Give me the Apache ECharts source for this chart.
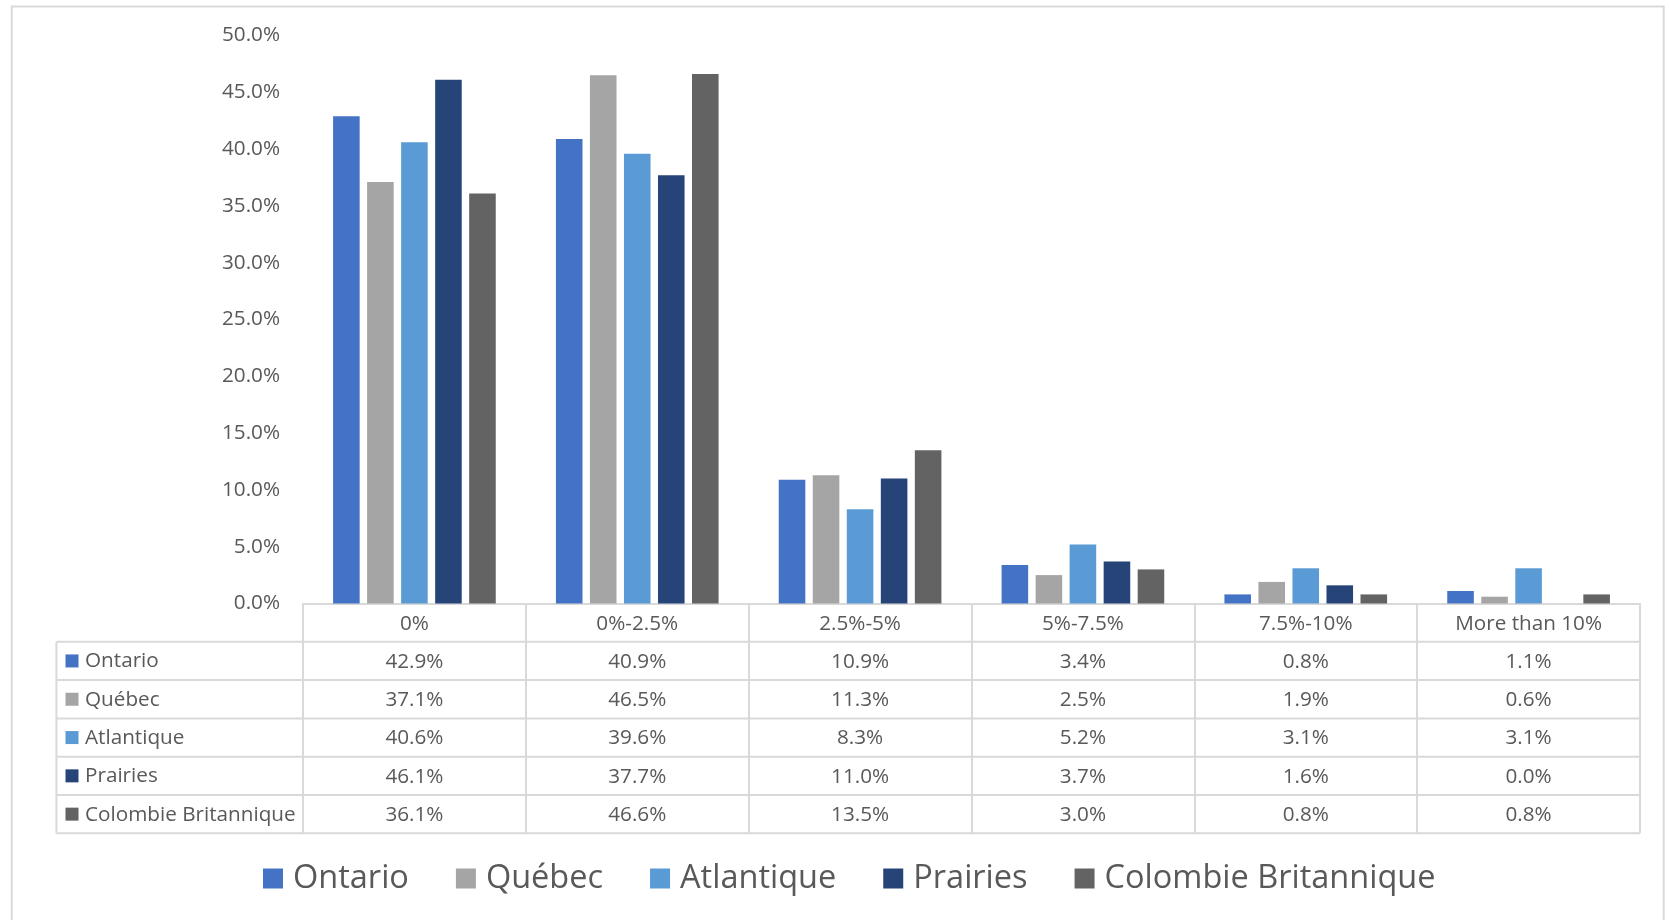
<!DOCTYPE html>
<html><head><meta charset="utf-8">
<script src="https://cdn.jsdelivr.net/npm/echarts@6.0.0/dist/echarts.min.js"></script>
<style>html,body{margin:0;padding:0;background:#fff}#c{width:1669px;height:920px}</style>
</head><body><div id="c"></div>
<script>
// ---- data ----
const categories = ['0%', '0%-2.5%', '2.5%-5%', '5%-7.5%', '7.5%-10%', 'More than 10%'];
const seriesNames = ['Ontario', 'Québec', 'Atlantique', 'Prairies', 'Colombie Britannique'];
const ontario    = [42.9, 40.9, 10.9, 3.4, 0.8, 1.1];
const quebec     = [37.1, 46.5, 11.3, 2.5, 1.9, 0.6];
const atlantique = [40.6, 39.6, 8.3, 5.2, 3.1, 3.1];
const prairies   = [46.1, 37.7, 11.0, 3.7, 1.6, 0.0];
const colombie   = [36.1, 46.6, 13.5, 3.0, 0.8, 0.8];
const yTicks = [0, 5, 10, 15, 20, 25, 30, 35, 40, 45, 50];

// ---- style / layout ----
const seriesData = [ontario, quebec, atlantique, prairies, colombie];
const colors = ['#4472C4', '#A5A5A5', '#5B9BD5', '#264478', '#636363'];
const FONT = '"Open Sans"';
const FS = 20.7;
const TXT = '#595959';
const LINE = '#D9D9D9';
const W = 1669, H = 920;
const gridLeft = 303, gridRight = 1640, gridTop = 35.5, axisY = 603.5;
const RH = 38.3;
const tableLeft = 56.4;
const nRows = seriesNames.length + 1;
const tableBottom = axisY + nRows * RH;
const fmt = v => v.toFixed(1) + '%';

const chart = echarts.init(document.getElementById('c'), null, {renderer: 'canvas'});

const graphics = [];
// outer border
graphics.push({type: 'rect', shape: {x: 11.7, y: 6.4, width: 1652, height: 940},
  style: {fill: null, stroke: LINE, lineWidth: 2}, silent: true});
// horizontal table lines
for (let k = 1; k <= nRows; k++) {
  const y = axisY + k * RH;
  graphics.push({type: 'line', shape: {x1: tableLeft, y1: y, x2: gridRight, y2: y},
    style: {stroke: LINE, lineWidth: 2}, silent: true});
}
// left vertical line of the key column
graphics.push({type: 'line', shape: {x1: tableLeft, y1: axisY + RH, x2: tableLeft, y2: tableBottom},
  style: {stroke: LINE, lineWidth: 2}, silent: true});
// row headers (legend keys)
seriesNames.forEach((name, i) => {
  const cy = axisY + (i + 1.5) * RH;
  graphics.push({type: 'rect', shape: {x: 65.5, y: cy - 6.5, width: 13, height: 13},
    style: {fill: colors[i]}, silent: true});
  graphics.push({type: 'text', x: 85, y: cy + 0.5,
    style: {text: name, fill: TXT, font: FS + 'px ' + FONT, textVerticalAlign: 'middle', textAlign: 'left'}, silent: true});
});

const option = {
  backgroundColor: '#fff',
  animation: false,
  color: colors,
  grid: {left: gridLeft, right: W - gridRight, top: gridTop, bottom: H - axisY, containLabel: false},
  legend: {
    data: seriesNames,
    left: 263, top: 862, padding: 0,
    itemWidth: 20, itemHeight: 20, itemGap: 47,
    icon: 'rect',
    textStyle: {fontFamily: FONT, fontSize: 32.5, color: TXT, padding: [0, 0, 0, 5]}
  },
  xAxis: {
    type: 'category',
    data: categories,
    axisLine: {show: true, lineStyle: {color: LINE, width: 2}},
    axisTick: {show: true, alignWithLabel: false, interval: 0, length: nRows * RH, lineStyle: {color: LINE, width: 2}},
    axisLabel: {
      interval: 0, margin: 1, color: TXT, fontFamily: FONT, fontSize: FS, lineHeight: RH,
      verticalAlign: 'top',
      formatter: (value, idx) => [value].concat(seriesData.map(arr => fmt(arr[idx]))).join('\n')
    },
    splitLine: {show: false}
  },
  yAxis: {
    type: 'value',
    min: yTicks[0], max: yTicks[yTicks.length - 1], interval: yTicks[1] - yTicks[0],
    axisLine: {show: false}, axisTick: {show: false}, splitLine: {show: false},
    axisLabel: {margin: 23, color: TXT, fontFamily: FONT, fontSize: FS, padding: [4, 0, 0, 0], formatter: v => fmt(v)}
  },
  series: seriesNames.map((name, i) => ({
    name: name, type: 'bar', data: seriesData[i],
    barCategoryGap: '27%', barGap: '28%',
    itemStyle: {color: colors[i]}
  })),
  graphic: graphics
};
chart.setOption(option);
</script>
</body></html>
